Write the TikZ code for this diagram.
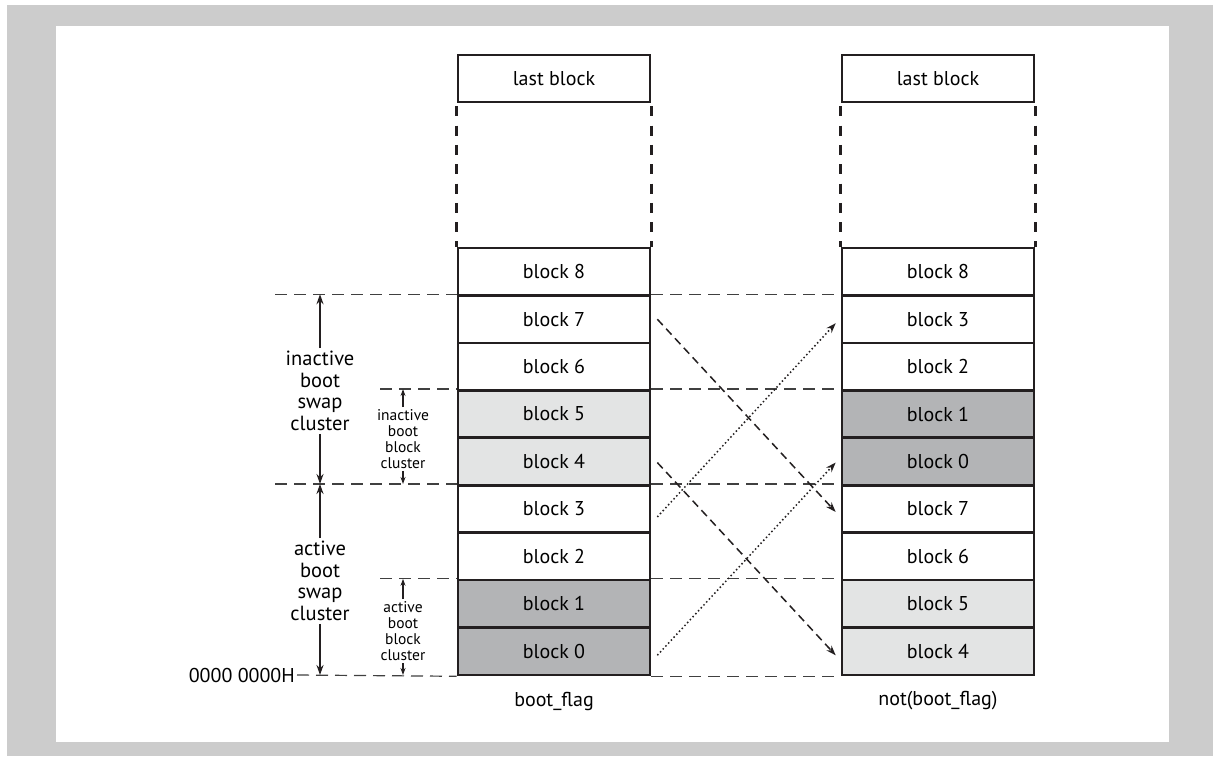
\documentclass[tikz,border=0pt]{standalone}
\usepackage{fontspec}
\setmainfont{PT Sans}
\usetikzlibrary{positioning,arrows.meta,calc}
\definecolor{inkline}{HTML}{231F20}
\definecolor{darkfill}{HTML}{B3B4B6}
\definecolor{lightfill}{HTML}{E3E4E4}
\definecolor{framegray}{HTML}{CCCCCC}
\definecolor{guidegray}{HTML}{404040}

\begin{document}
\begin{tikzpicture}[x=1pt, y=-1pt,
    blk/.style={draw=inkline, line width=2.6pt, minimum width=192pt, minimum height=47.4pt,
      inner sep=0pt, font=\fontsize{20}{22}\selectfont},
    guide/.style={draw=guidegray, line width=1.2pt, dash pattern=on 12pt off 7pt},
    gapside/.style={draw=inkline, line width=2.6pt, dash pattern=on 10pt off 9.3pt, dash phase=-3pt},
    bigtxt/.style={font=\fontsize{20.5}{21.5}\selectfont, align=center, inner sep=3pt},
    smalltxt/.style={font=\fontsize{15.5}{16}\selectfont, align=center, inner sep=2pt},
    bigarr/.style={-{Stealth[length=10pt,width=7pt]}, line width=1.8pt, draw=inkline},
    smallarr/.style={-{Stealth[length=7pt,width=5pt]}, line width=1.2pt, draw=inkline},
    movearr/.style={-{Stealth[length=10pt,width=7pt]}, line width=1.5pt, draw=inkline},
    dasharr/.style={movearr, dash pattern=on 8pt off 5pt},
    dotarr/.style={movearr, dash pattern=on 1.5pt off 2.5pt}]
  \useasboundingbox (0,0) rectangle (1213,756);
  % frame
  \fill[white] (0,0) rectangle (1213,756);
  \fill[framegray] (7,5) rectangle (1213,756);
  \fill[white] (56,26) rectangle (1169,742);

  % the two block columns
  \foreach \i/\r/\lf/\rf in {0/4/darkfill/lightfill, 1/5/darkfill/lightfill, 2/6/white/white,
      3/7/white/white, 4/0/lightfill/darkfill, 5/1/lightfill/darkfill, 6/2/white/white,
      7/3/white/white, 8/8/white/white} {
    \pgfmathsetmacro{\yc}{675-(\i+0.5)*47.44}
    \node[blk, fill=\lf] (L\i) at (554,\yc) {block \i};
    \node[blk, fill=\rf] (R\i) at (938,\yc) {block \r};
  }
  \node[blk, fill=white, minimum height=47pt] (Llast) at (554,78.5) {last block};
  \node[blk, fill=white, minimum height=47pt] (Rlast) at (938,78.5) {last block};
  \foreach \c in {L,R} {
    \draw[gapside] (\c last.south west) -- (\c8.north west);
    \draw[gapside] (\c last.south east) -- (\c8.north east);
  }

  % guide lines
  \coordinate (inTop) at (275,0 |- L7.north);
  \coordinate (inBlkTop) at (380,0 |- L5.north);
  \coordinate (acTop) at (275,0 |- L3.north);
  \coordinate (acBlkTop) at (380,0 |- L1.north);
  \draw[guide] (inTop) -- (L7.north west);
  \draw[guide] (inBlkTop) -- (L5.north west);
  \draw[guide] (acTop) -- (L3.north west);
  \draw[guide] (acBlkTop) -- (L1.north west);
  \foreach \i in {7,5,3,1}
    \draw[guide] (L\i.north east) -- (R\i.north west);
  \draw[guide] (L0.south east) -- (R0.south west);

  \node[font=\fontsize{20}{22}\selectfont, anchor=east, inner sep=2pt] (addr) at (297,675) {0000 0000H};
  \draw[guide] (addr.east) -- (L0.south west);

  % cluster labels
  \node[bigtxt] (inSwap) at (320,391) {inactive\\boot\\swap\\cluster};
  \draw[bigarr] (inSwap.north) -- (inSwap.north |- inTop);
  \draw[bigarr] (inSwap.south) -- (inSwap.south |- acTop);
  \node[smalltxt] (inBlk) at (403,439) {inactive\\boot\\block\\cluster};
  \draw[smallarr] (inBlk.north) -- (inBlk.north |- inBlkTop);
  \draw[smallarr] (inBlk.south) -- (inBlk.south |- acTop);
  \node[bigtxt] (acSwap) at (320,581) {active\\boot\\swap\\cluster};
  \draw[bigarr] (acSwap.north) -- (acSwap.north |- acTop);
  \draw[bigarr] (acSwap.south) -- (acSwap.south |- addr);
  \node[smalltxt] (acBlk) at (403,631) {active\\boot\\block\\cluster};
  \draw[smallarr] (acBlk.north) -- (acBlk.north |- acBlkTop);
  \draw[smallarr] (acBlk.south) -- (acBlk.south |- addr);

  % swap moves
  \draw[dasharr] ($(L7.east)+(6,0)$) -- ($(R3.west)+(-5,3)$);
  \draw[dasharr] ($(L4.east)+(6,1)$) -- ($(R0.west)+(-5,4)$);
  \draw[dotarr] ($(L3.east)+(6,8)$) -- ($(R7.west)+(-5,4)$);
  \draw[dotarr] ($(L0.east)+(6,4)$) -- ($(R4.west)+(-5,1)$);

  \node[font=\fontsize{20}{22}\selectfont] (lflag) at (554,701) {boot\_flag};
  \node[font=\fontsize{20}{22}\selectfont] (rflag) at (938,701) {not(boot\_flag)};
\end{tikzpicture}
\end{document}
